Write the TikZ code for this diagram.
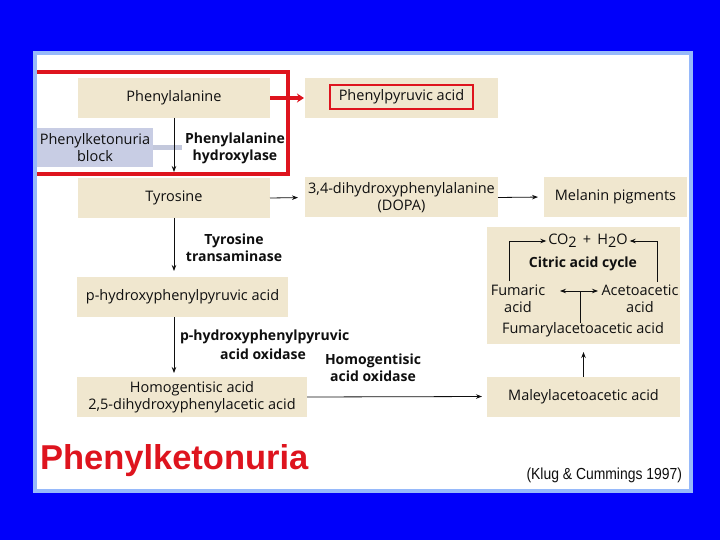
\documentclass[tikz,border=0pt]{standalone}
\usepackage{fontspec}
\usetikzlibrary{arrows.meta}
\newfontfamily\dfont{Open Sans}
\newfontfamily\afont{Liberation Sans}
\definecolor{bluebg}{RGB}{0,0,250}
\definecolor{panelrim}{RGB}{150,185,250}
\definecolor{boxc}{RGB}{240,231,207}
\definecolor{blockc}{RGB}{200,205,228}
\definecolor{barc}{RGB}{195,200,220}
\definecolor{pkured}{RGB}{222,20,30}
\definecolor{ink}{RGB}{15,15,15}
\newcommand{\regfont}{\dfont\fontsize{14.5}{17}\selectfont}
\newcommand{\boldfont}{\dfont\bfseries\fontsize{14}{17}\selectfont}
\tikzset{
  every node/.style={inner sep=0pt, outer sep=0pt, text=ink},
  box/.style={fill=boxc, minimum height=40pt, align=center, font=\regfont},
  lbl/.style={align=center, font=\boldfont},
  txt/.style={align=center, font=\regfont},
  arr/.style={draw=ink, line width=0.8pt, -{Stealth[length=6pt,width=4.5pt]}},
  arrtwo/.style={draw=ink, line width=0.8pt, {Stealth[length=6pt,width=4.5pt]}-{Stealth[length=6pt,width=4.5pt]}},
  redarr/.style={draw=pkured, line width=3.5pt, -{Stealth[length=7pt,width=9pt]}},
}
\begin{document}
\begin{tikzpicture}[x=1pt,y=-1pt]
% background
\fill[bluebg] (0,0) rectangle (720,540);
\fill[panelrim] (33,51) rectangle (693,493);
\fill[white] (37,55) rectangle (689,489);
\useasboundingbox (0,0) rectangle (720,540);

% boxes
\node[box, minimum width=192pt] (phe) at (174,98) {Phenylalanine};
\node[box, minimum width=193pt] (ppa) at (401.5,98) {};
\node[draw=pkured, line width=1.8pt, minimum width=143pt, minimum height=24pt,
      font=\regfont] (ppared) at (401.5,97) {Phenylpyruvic acid};
\node[box, fill=blockc, minimum width=116pt, minimum height=39pt] (block) at (95,147.5) {Phenylketonuria\\block};
\fill[barc] (153,145) rectangle (182,150);
\node[lbl] (phh) at (235,148) {Phenylalanine\\hydroxylase};

\node[box, minimum width=192pt] (tyr) at (174,198) {Tyrosine};
\node[box, minimum width=193pt] (dopa) at (401.5,197.5) {3,4-dihydroxyphenylalanine\\(DOPA)};
\node[box, minimum width=143pt] (mel) at (615.5,197) {Melanin pigments};

\node[lbl] (tt) at (234,248) {Tyrosine\\transaminase};
\node[box, minimum width=211pt] (php) at (182.5,297) {p-hydroxyphenylpyruvic acid};
\node[lbl, anchor=west] (phpo) at (180,337) {p-hydroxyphenylpyruvic};
\node[lbl] (phpob) at (263,354) {acid oxidase};
\node[box, minimum width=230pt] (hga) at (192,397) {Homogentisic acid\\2,5-dihydroxyphenylacetic acid};
\node[lbl] (hgo) at (373,368) {Homogentisic\\acid oxidase};
\node[box, minimum width=193pt] (mal) at (583.5,396.5) {Maleylacetoacetic acid};

% big box
\node[box, minimum width=193pt, minimum height=117pt] (big) at (583.5,285.5) {};
\node[txt, inner sep=2pt] (co2) at (588,241) {CO\raisebox{-0.35ex}{2} \,+\, H\raisebox{-0.35ex}{2}O};
\node[lbl] (cac) at (583,264) {Citric acid cycle};
\node[txt] (fum) at (518,299) {Fumaric\\acid};
\node[txt] (ace) at (640,299) {Acetoacetic\\acid};
\node[txt] (fumac) at (583,330) {Fumarylacetoacetic acid};
\coordinate (dl) at (560,291);
\coordinate (dr) at (598,291);
\coordinate (dm) at (580,291);
\coordinate (fumtop) at (509,281);
\coordinate (acetop) at (657,282);

% connectors
\draw[arr, shorten >=6pt] (phe.south) -- (tyr.north);
\draw[arr, shorten >=6pt] (tyr.south) -- (tyr.south |- php.north);
\draw[arr, shorten >=4pt] (tyr.south |- php.south) -- (tyr.south |- hga.north);
\draw[arr, shorten >=7pt] (tyr.east) -- (dopa.west);
\draw[arr, shorten >=6pt] (dopa.east) -- (mel.west);
\draw[arr, shorten >=5pt] (hga.east) -- (mal.west);
\draw[arr, shorten >=8pt] (mal.north) -- (mal.north |- big.south);
\draw[arr] (fumtop) |- (co2.west);
\draw[arr] (acetop) |- (co2.east);
\draw[arrtwo] (dl) -- (dr);
\draw[draw=ink, line width=0.8pt] (dm) -- (dm |- fumac.north);

% red frame
\draw[pkured, line width=4pt] (37,72) -- (288,72) -- (288,174) -- (37,174);
\draw[redarr, shorten >=1pt] (phe.east) -- (ppa.west);

% titles
\node[anchor=base west, text=pkured, font=\afont\bfseries\fontsize{34.5}{40}\selectfont] (title) at (40,469) {Phenylketonuria};
\node[anchor=base east, xscale=0.87, font=\afont\fontsize{16}{18}\selectfont] (cite) at (682,479) {(Klug \& Cummings 1997)};
\end{tikzpicture}
\end{document}
